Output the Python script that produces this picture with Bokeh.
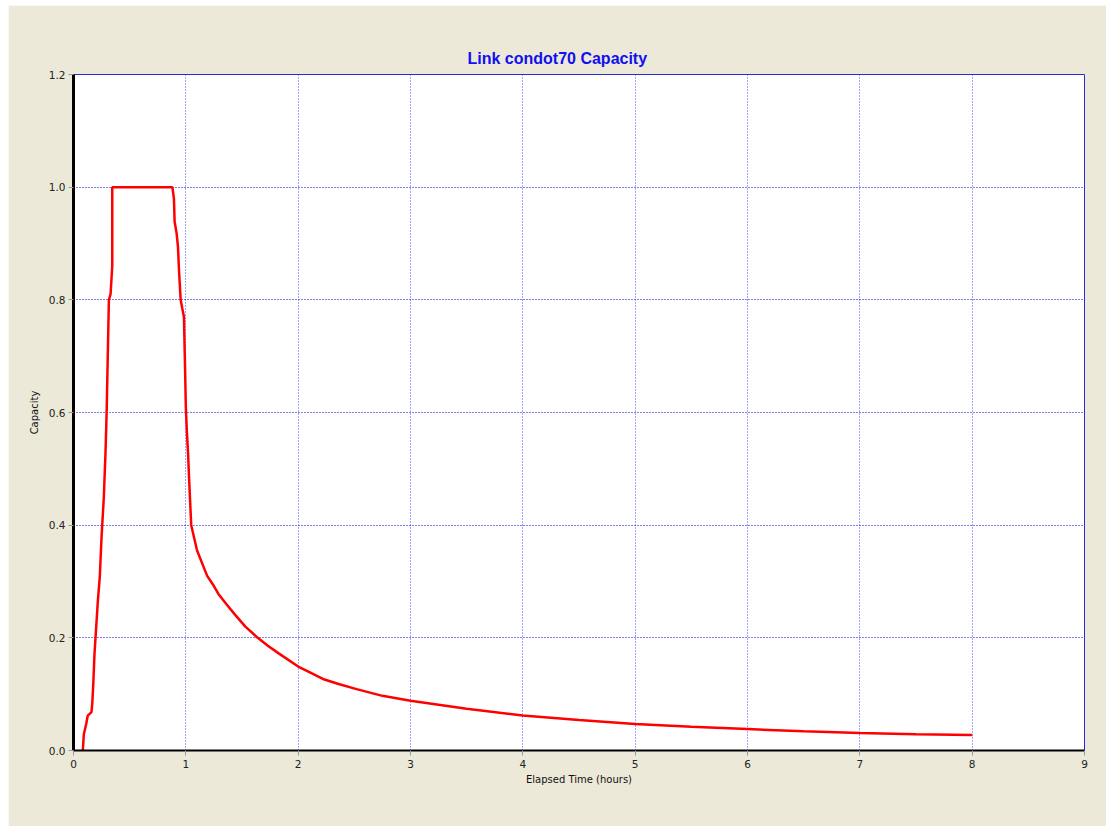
from bokeh.plotting import figure
from bokeh.models import Range1d, FixedTicker, PrintfTickFormatter
from bokeh.embed import file_html
from bokeh.resources import INLINE

# Link capacity time series (hours, fraction of capacity)
elapsed_hours = [0.083, 0.092, 0.113, 0.127, 0.16, 0.167, 0.176, 0.187, 0.202, 0.217,
                 0.234, 0.25, 0.27, 0.285, 0.295, 0.305, 0.315, 0.33, 0.345, 0.345,
                 0.88, 0.894, 0.9, 0.918, 0.93, 0.939, 0.954, 0.968, 0.983, 0.992,
                 1.0, 1.01, 1.02, 1.027, 1.035, 1.048, 1.1, 1.15, 1.19, 1.25,
                 1.29, 1.36, 1.43, 1.53, 1.64, 1.73, 1.83, 2.0, 2.1, 2.22,
                 2.36, 2.52, 2.75, 3.0, 3.5, 4.0, 4.5, 5.0, 5.5, 6.0,
                 6.5, 7.0, 7.5, 8.0]
capacity = [0.0, 0.029, 0.047, 0.062, 0.068, 0.083, 0.118, 0.172, 0.219, 0.266,
            0.308, 0.38, 0.45, 0.53, 0.6, 0.7, 0.8, 0.81, 0.86, 1.0,
            1.0, 0.98, 0.939, 0.918, 0.894, 0.853, 0.8, 0.785, 0.77, 0.69,
            0.61, 0.563, 0.527, 0.492, 0.456, 0.4, 0.355, 0.33, 0.31, 0.292,
            0.278, 0.26, 0.243, 0.22, 0.2, 0.186, 0.172, 0.149, 0.139, 0.127,
            0.118, 0.109, 0.097, 0.0885, 0.074, 0.062, 0.054, 0.047, 0.042, 0.038,
            0.034, 0.031, 0.029, 0.0275]

x_ticks = [0, 1, 2, 3, 4, 5, 6, 7, 8, 9]
y_ticks = [0.0, 0.2, 0.4, 0.6, 0.8, 1.0, 1.2]

FONT = "DejaVu Sans"

p = figure(width=1098, height=821,
           x_range=Range1d(0, 9), y_range=Range1d(0, 1.2),
           output_backend="svg", toolbar_location=None,
           min_border_left=65, min_border_right=22,
           min_border_top=69, min_border_bottom=76)
p.margin = (5, 6, 2, 8)
p.border_fill_color = "#ECE9D8"
p.background_fill_color = "white"
p.outline_line_color = "#2a2ad8"
p.outline_line_width = 1

p.title.text = "Link condot70 Capacity"
p.title.align = "left"
p.title.offset = 394
p.title.text_color = "#1010f0"
p.title.text_font = "Liberation Sans"
p.title.text_font_size = "16px"
p.title.text_font_style = "bold"
p.title.standoff = 15

# axes
p.xaxis.ticker = FixedTicker(ticks=x_ticks)
p.yaxis.ticker = FixedTicker(ticks=y_ticks)
p.yaxis.formatter = PrintfTickFormatter(format="%.1f")
for ax in (p.xaxis[0], p.yaxis[0]):
    ax.axis_line_color = "black"
    ax.major_tick_line_color = "#999999"
    ax.major_tick_out = 5
    ax.major_tick_in = 0
    ax.minor_tick_line_color = None
    ax.major_label_text_font = FONT
    ax.major_label_text_font_size = "10.5px"
    ax.major_label_text_color = "#222222"
    ax.axis_label_text_font = FONT
    ax.axis_label_text_font_size = "10px"
    ax.axis_label_text_font_style = "normal"
    ax.axis_label_text_color = "#111111"
p.yaxis.axis_line_width = 3
p.xaxis.axis_line_width = 2
p.xaxis.axis_label = "Elapsed Time (hours)"
p.yaxis.axis_label = "Capacity"
p.xaxis.major_label_standoff = 4
p.xaxis.axis_label_standoff = 3
p.yaxis.major_label_standoff = 3
p.yaxis.axis_label_standoff = 6

# dotted blue grid
p.xgrid.grid_line_color = "#4848ff"
p.ygrid.grid_line_color = "#0000cc"
for g in (p.xgrid[0], p.ygrid[0]):
    g.grid_line_dash = "1 2"
    g.grid_line_width = 1

p.line(elapsed_hours, capacity, line_color="#ff0000", line_width=2.5)

open("out.html", "w").write(file_html(p, INLINE))
